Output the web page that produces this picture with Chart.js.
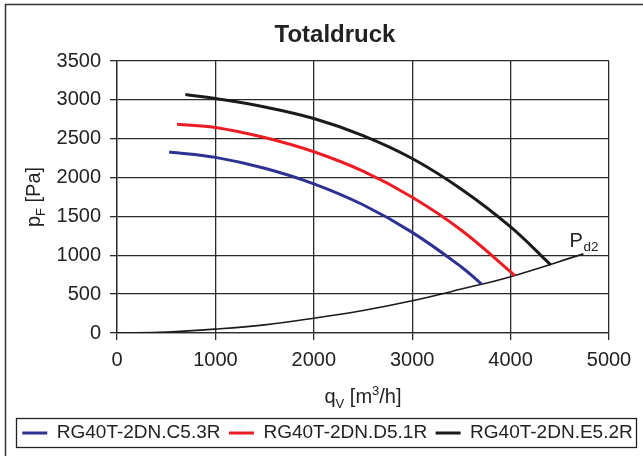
<!DOCTYPE html>
<html>
<head>
<meta charset="utf-8">
<script src="https://cdn.jsdelivr.net/npm/chart.js@4.4.1/dist/chart.umd.min.js"></script>
<style>
  html, body { margin: 0; padding: 0; background: #fff; }
  #wrap { width: 643px; height: 456px; }
</style>
</head>
<body>
<div id="wrap"><canvas id="pressureChart"></canvas></div>
<script>
// Flow rate q_V [m3/h] and total pressure p_F [Pa]
const names = ["RG40T-2DN.C5.3R", "RG40T-2DN.D5.1R", "RG40T-2DN.E5.2R"];
const colors = ["#2e3192", "#ed1c24", "#1a1a1a"];

const qC53 = [530, 1000, 1500, 2000, 2500, 3000, 3500, 3705];
const pC53 = [2330, 2260, 2120, 1920, 1650, 1295, 850, 629];

const qD51 = [610, 1000, 1500, 2000, 2500, 3000, 3500, 4044];
const pD51 = [2687, 2645, 2515, 2332, 2082, 1747, 1322, 738];

const qE52 = [695, 1000, 1500, 2000, 2500, 3000, 3500, 4000, 4407];
const pE52 = [3069, 3017, 2909, 2760, 2540, 2245, 1850, 1365, 877];

// dynamic pressure line P_d2
const qPd2 = [0, 500, 1000, 1500, 2000, 2500, 3000, 3500, 4000, 4740];
const pPd2 = [0, 12, 50, 105, 190, 290, 415, 565, 725, 1018];

const FONT = "'Liberation Sans', Arial, sans-serif";
const INK = "#222";
const GRID = "#2b2b2b";

function pts(qs, ps) {
  return qs.map((q, i) => ({ x: q, y: ps[i] }));
}

function curve(label, qs, ps, color, width) {
  return {
    label: label,
    data: pts(qs, ps),
    borderColor: color,
    backgroundColor: color,
    borderWidth: width,
    pointRadius: 0,
    tension: 0.4,
    fill: false
  };
}

// draws a row of text pieces (sub/superscripts) centred on x
function drawParts(ctx, parts, x, y) {
  let total = 0;
  parts.forEach(p => {
    ctx.font = p.size + "px " + FONT;
    p.w = ctx.measureText(p.t).width;
    total += p.w;
  });
  let cx = x - total / 2;
  parts.forEach(p => {
    ctx.font = p.size + "px " + FONT;
    ctx.fillText(p.t, cx, y + (p.dy || 0));
    cx += p.w;
  });
}

const decor = {
  id: "decor",
  afterDraw(chart) {
    const ctx = chart.ctx;
    const ca = chart.chartArea;
    ctx.save();

    // outer frame (cut off at right and bottom)
    ctx.strokeStyle = "#333";
    ctx.lineWidth = 1.5;
    ctx.beginPath();
    ctx.moveTo(5.5, 456);
    ctx.lineTo(5.5, 4.5);
    ctx.lineTo(643, 4.5);
    ctx.stroke();

    // legend frame
    const lg = chart.legend;
    const hb = lg.legendHitBoxes;
    const l = Math.min(...hb.map(h => h.left)) - 6;
    const r = Math.max(...hb.map(h => h.left + h.width)) + 4;
    ctx.lineWidth = 1.3;
    ctx.strokeStyle = INK;
    ctx.strokeRect(Math.round(l) + 0.5, Math.round(lg.top + 3) + 0.5, Math.round(r - l), 29);

    ctx.fillStyle = INK;
    ctx.textBaseline = "alphabetic";

    // chart title
    ctx.font = "bold 24px " + FONT;
    ctx.textAlign = "center";
    ctx.fillText("Totaldruck", 335, 42);
    ctx.textAlign = "left";

    // x axis title
    const xs = chart.scales.x;
    drawParts(ctx, [
      { t: "q", size: 20 },
      { t: "V", size: 13, dy: 5 },
      { t: " [m", size: 20 },
      { t: "3", size: 13, dy: -8 },
      { t: "/h]", size: 20 }
    ], (ca.left + ca.right) / 2, xs.top + 70);

    // y axis title, rotated
    ctx.save();
    ctx.translate(40, (ca.top + ca.bottom) / 2);
    ctx.rotate(-Math.PI / 2);
    drawParts(ctx, [
      { t: "p", size: 20 },
      { t: "F", size: 13, dy: 5 },
      { t: " [Pa]", size: 20 }
    ], 0, 0);
    ctx.restore();

    // P_d2 label at the end of the dynamic pressure line
    const last = qPd2.length - 1;
    const px = xs.getPixelForValue(qPd2[last]);
    const py = chart.scales.y.getPixelForValue(pPd2[last]);
    ctx.font = "20px " + FONT;
    ctx.fillText("P", px - 14, py - 7);
    ctx.font = "13.5px " + FONT;
    ctx.fillText("d2", px, py - 2.5);

    ctx.restore();
  }
};

new Chart(document.getElementById("pressureChart"), {
  type: "line",
  data: {
    datasets: [
      curve(names[0], qC53, pC53, colors[0], 3),
      curve(names[1], qD51, pD51, colors[1], 3),
      curve(names[2], qE52, pE52, colors[2], 3),
      curve("Pd2", qPd2, pPd2, "#1a1a1a", 1.6)
    ]
  },
  options: {
    responsive: true,
    maintainAspectRatio: false,
    animation: false,
    layout: { padding: { left: 12, right: 0, top: 61, bottom: 3.5 } },
    plugins: {
      title: { display: false },
      legend: {
        position: "bottom",
        labels: {
          color: INK,
          font: { family: FONT, size: 19 },
          boxWidth: 25,
          boxHeight: 3,
          padding: 8.5,
          filter: item => item.text !== "Pd2",
          generateLabels(chart) {
            const items = Chart.defaults.plugins.legend.labels.generateLabels(chart);
            items.forEach(it => { it.lineWidth = 0; });
            return items;
          }
        }
      },
      tooltip: { enabled: false }
    },
    scales: {
      x: {
        type: "linear",
        min: 0,
        max: 5000,
        ticks: {
          stepSize: 1000, color: INK, font: { family: FONT, size: 20 }, padding: 8, maxRotation: 0,
          callback: v => String(v)
        },
        grid: { color: GRID, lineWidth: 1.3, tickLength: 7, tickColor: GRID },
        border: { color: GRID, width: 1.3 },
        afterFit(s) { s.height = 82; }
      },
      y: {
        min: 0,
        max: 3500,
        ticks: {
          stepSize: 500, color: INK, font: { family: FONT, size: 20 }, padding: 9,
          callback: v => String(v)
        },
        grid: { color: GRID, lineWidth: 1.3, tickLength: 7, tickColor: GRID },
        border: { color: GRID, width: 1.3 },
        afterFit(s) { s.width = 105; }
      },
      y2: {
        position: "right",
        min: 0,
        max: 1,
        grid: { display: false },
        ticks: { display: false },
        border: { display: false },
        afterFit(s) { s.width = 34; }
      }
    }
  },
  plugins: [decor]
});
</script>
</body>
</html>
